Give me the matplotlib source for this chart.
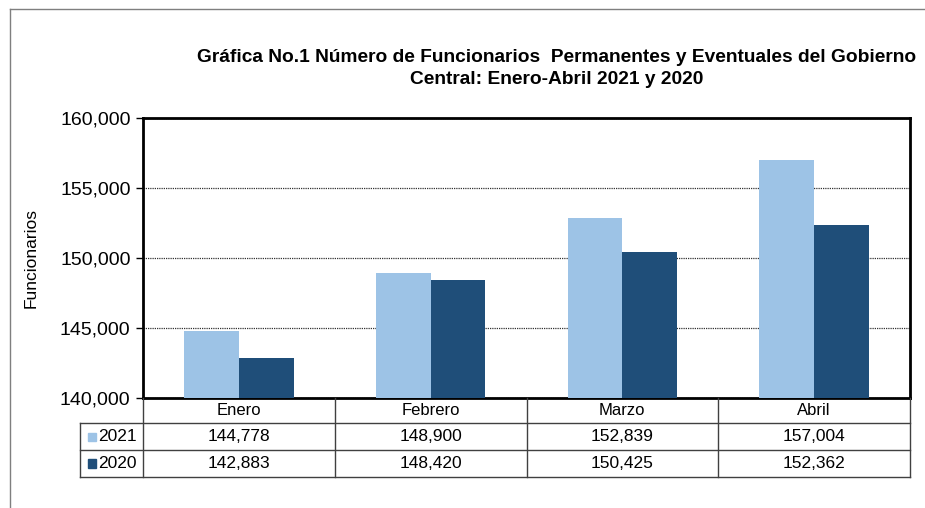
import matplotlib
matplotlib.use("Agg")
import matplotlib.pyplot as plt
from matplotlib.lines import Line2D
from matplotlib.patches import Rectangle
import matplotlib.transforms as mtransforms
from matplotlib.ticker import FuncFormatter, MultipleLocator

plt.rcParams['font.family'] = ['Liberation Sans', 'DejaVu Sans']

categories = ["Enero", "Febrero", "Marzo", "Abril"]
series_names = ["2021", "2020"]
values_2021 = [144778, 148900, 152839, 157004]
values_2020 = [142883, 148420, 150425, 152362]
colors = ["#9DC3E6", "#1F4E79"]
title_lines = ["Gráfica No.1 Número de Funcionarios  Permanentes y Eventuales del Gobierno",
               "Central: Enero-Abril 2021 y 2020"]
ylabel = "Funcionarios"

W, H = 925, 508
fig = plt.figure(figsize=(W / 100, H / 100), dpi=100)

def fx(px):
    return px / W

def fy(py):
    return 1 - py / H

ax = fig.add_axes([fx(143), fy(398), fx(910) - fx(143), fy(118) - fy(398)])

bw = 0.286
xs = list(range(len(categories)))
ax.bar([x - bw / 2 for x in xs], values_2021, width=bw, color=colors[0], zorder=3)
ax.bar([x + bw / 2 for x in xs], values_2020, width=bw, color=colors[1], zorder=3)

ax.set_xlim(-0.5, len(categories) - 0.5)
ax.set_ylim(140000, 160000)
ax.yaxis.set_major_locator(MultipleLocator(5000))
ax.yaxis.set_major_formatter(FuncFormatter(lambda v, p: f"{int(v):,}"))
ax.tick_params(axis='y', labelsize=14, direction='out', length=5, width=1, pad=4, colors='black')
ax.set_xticks([])
ax.grid(axis='y', linestyle=(0, (1, 0.8)), color='#333333', linewidth=0.9, zorder=1)
for s in ax.spines.values():
    s.set_linewidth(2)
    s.set_color('black')

fig.text(fx(31), fy(258), ylabel, rotation=90, ha='center', va='center', fontsize=12.5)

fig.text(fx(557), fy(58), title_lines[0], ha='center', va='center', fontsize=13.8, fontweight='bold')
fig.text(fx(557), fy(80), title_lines[1], ha='center', va='center', fontsize=13.8, fontweight='bold')

# Figure frame lines (top and left)
fig.add_artist(Line2D([fx(10), 1], [fy(9), fy(9)], color='#7F7F7F', lw=1))
fig.add_artist(Line2D([fx(10), fx(10)], [fy(9), 0], color='#7F7F7F', lw=1))

# Data table
bt = mtransforms.blended_transform_factory(ax.transData, fig.transFigure)
tc = '#404040'
row_y = [398, 423, 450, 477]
for yy in row_y[1:]:
    fig.add_artist(Line2D([fx(80), fx(910)], [fy(yy), fy(yy)], color=tc, lw=1))
for k in range(len(categories) + 1):
    xk = k - 0.5
    fig.add_artist(Line2D([xk, xk], [fy(398), fy(477)], color=tc, lw=1, transform=bt))
fig.add_artist(Line2D([fx(80), fx(80)], [fy(423), fy(477)], color=tc, lw=1))

for i, c in enumerate(categories):
    fig.text(i, fy(410.5), c, transform=bt, ha='center', va='center', fontsize=12)
for r, vals in enumerate([values_2021, values_2020]):
    yc = (row_y[r + 1] + row_y[r + 2]) / 2
    for i, v in enumerate(vals):
        fig.text(i, fy(yc), f"{v:,}", transform=bt, ha='center', va='center', fontsize=12.5)
    fig.add_artist(Rectangle((fx(88), fy(yc + 4)), fx(8), fy(yc - 4) - fy(yc + 4),
                             color=colors[r], transform=fig.transFigure))
    fig.text(fx(98), fy(yc), series_names[r], ha='left', va='center', fontsize=12.5)

fig.savefig("out.png", dpi=100)
